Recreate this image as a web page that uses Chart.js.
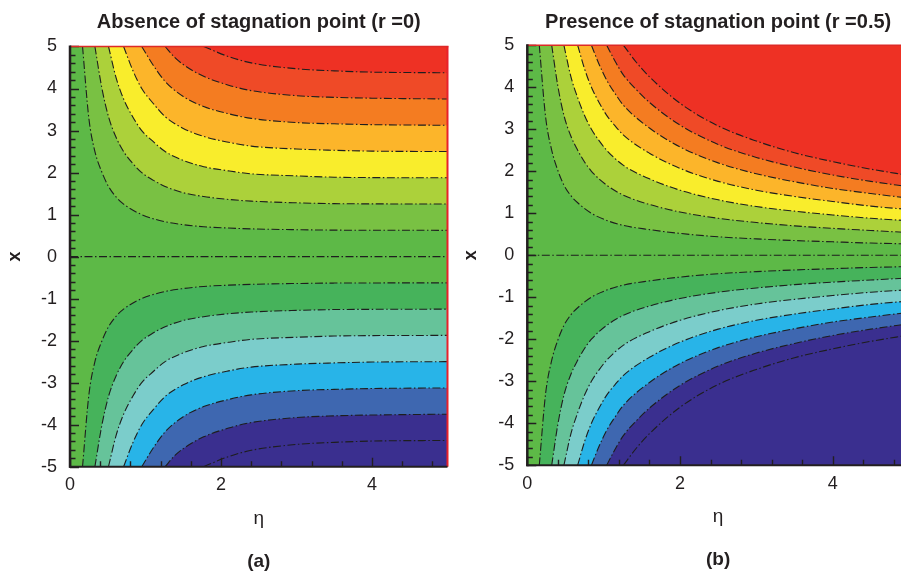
<!DOCTYPE html>
<html>
<head>
<meta charset="utf-8">
<script src="https://cdn.jsdelivr.net/npm/chart.js@4.4.1/dist/chart.umd.min.js"></script>
<style>
    html, body { margin: 0; padding: 0; background: #fff; overflow: hidden; width: 901px; height: 572px; }
    .panel { position: absolute; top: 0; }
    #panelA { left: 0; }
    #panelB { left: 460px; }
</style>
</head>
<body>
<div class="panel" id="panelA"><canvas id="chartA" width="460" height="572"></canvas></div>
<div class="panel" id="panelB"><canvas id="chartB" width="460" height="572"></canvas></div>
<script>
// contour levels (positive side; the lower half of each plot is the mirror image)
const levels = [0.625, 1.25, 1.875, 2.5, 3.125, 3.75, 4.375];

// colour of the band above each positive level / below each negative level
const upColors = ['#79c143', '#acd13a', '#f9ed2c', '#fcb52a', '#f47c21', '#ef4a27', '#ee3124'];
const downColors = ['#46b35b', '#66c39a', '#7bcdcb', '#28b4e8', '#3e67b0', '#3a2f8f', '#3a2f8f'];
const centerColor = '#5db947';

// (a) r = 0 : eta / x points along each contour line
const etaA = [
    [0.166, 0.25, 0.33, 0.42, 0.51, 0.61, 0.71, 0.95, 1.26, 1.5, 1.77, 2.1, 2.4, 3.0, 3.5, 4.0, 5.0],
    [0.33, 0.42, 0.51, 0.61, 0.71, 0.83, 0.95, 1.1, 1.26, 1.5, 1.77, 2.1, 2.4, 3.0, 3.5, 4.0, 5.0],
    [0.51, 0.61, 0.71, 0.83, 0.95, 1.1, 1.26, 1.5, 1.77, 2.1, 2.4, 3.0, 3.5, 4.0, 5.0],
    [0.71, 0.83, 0.95, 1.1, 1.26, 1.5, 1.77, 2.1, 2.4, 3.0, 3.5, 4.0, 5.0],
    [0.95, 1.1, 1.26, 1.5, 1.77, 2.1, 2.4, 3.0, 3.5, 4.0, 5.0],
    [1.26, 1.38, 1.5, 1.77, 2.1, 2.4, 3.0, 3.5, 4.0, 5.0],
    [1.77, 2.1, 2.4, 3.0, 3.5, 4.0, 5.0]
];
const xA = [
    [5.0, 3.29, 2.5, 2.02, 1.67, 1.42, 1.25, 1.0, 0.83, 0.76, 0.71, 0.68, 0.66, 0.64, 0.63, 0.627, 0.625],
    [5.0, 4.03, 3.33, 2.84, 2.5, 2.22, 2.0, 1.82, 1.67, 1.52, 1.43, 1.36, 1.32, 1.28, 1.26, 1.255, 1.25],
    [5.0, 4.26, 3.75, 3.33, 3.0, 2.74, 2.5, 2.29, 2.14, 2.04, 1.97, 1.92, 1.89, 1.88, 1.875],
    [5.0, 4.44, 4.0, 3.65, 3.33, 3.05, 2.86, 2.72, 2.63, 2.56, 2.53, 2.51, 2.5],
    [5.0, 4.56, 4.17, 3.81, 3.57, 3.40, 3.29, 3.19, 3.16, 3.14, 3.125],
    [5.0, 4.75, 4.57, 4.29, 4.08, 3.95, 3.83, 3.79, 3.77, 3.75],
    [5.0, 4.76, 4.61, 4.47, 4.42, 4.39, 4.375]
];

// (b) r = 0.5
const etaB = [
    [0.157, 0.24, 0.32, 0.40, 0.48, 0.57, 0.66, 0.84, 1.04, 1.26, 1.6, 2.0, 2.5, 3.0, 3.5, 4.0, 4.5, 5.0],
    [0.32, 0.40, 0.48, 0.57, 0.66, 0.75, 0.84, 1.04, 1.26, 1.6, 2.0, 2.5, 3.0, 3.5, 4.0, 4.5, 5.0],
    [0.48, 0.57, 0.66, 0.75, 0.84, 0.94, 1.04, 1.26, 1.6, 2.0, 2.5, 3.0, 3.5, 4.0, 4.5, 5.0],
    [0.66, 0.75, 0.84, 0.94, 1.04, 1.15, 1.26, 1.6, 2.0, 2.5, 3.0, 3.5, 4.0, 4.5, 5.0],
    [0.84, 0.94, 1.04, 1.15, 1.26, 1.6, 2.0, 2.5, 3.0, 3.5, 4.0, 4.5, 5.0],
    [1.04, 1.15, 1.26, 1.43, 1.6, 2.0, 2.5, 3.0, 3.5, 4.0, 4.5, 5.0],
    [1.26, 1.43, 1.6, 2.0, 2.5, 3.0, 3.5, 4.0, 4.5, 5.0]
];
const xB = [
    [5.0, 3.29, 2.5, 2.02, 1.67, 1.42, 1.25, 1.0, 0.83, 0.71, 0.61, 0.52, 0.44, 0.39, 0.35, 0.32, 0.29, 0.27],
    [5.0, 4.03, 3.33, 2.84, 2.5, 2.22, 2.0, 1.67, 1.43, 1.21, 1.03, 0.88, 0.78, 0.70, 0.64, 0.59, 0.54],
    [5.0, 4.26, 3.75, 3.33, 3.0, 2.73, 2.5, 2.14, 1.82, 1.55, 1.32, 1.16, 1.05, 0.96, 0.88, 0.82],
    [5.0, 4.44, 4.0, 3.64, 3.33, 3.08, 2.86, 2.43, 2.07, 1.76, 1.55, 1.40, 1.28, 1.17, 1.09],
    [5.0, 4.55, 4.17, 3.85, 3.57, 3.03, 2.58, 2.20, 1.94, 1.75, 1.59, 1.47, 1.36],
    [5.0, 4.62, 4.29, 3.94, 3.64, 3.10, 2.64, 2.33, 2.10, 1.91, 1.76, 1.63],
    [5.0, 4.59, 4.25, 3.62, 3.08, 2.72, 2.44, 2.23, 2.05, 1.90]
];

// axis ticks
const xTickLabels = [0, 2, 4];
const yTickLabels = [-5, -4, -3, -2, -1, 0, 1, 2, 3, 4, 5];
const xMinorStep = 0.4;
const yMinorStep = 0.2;

Chart.defaults.font.family = '"Liberation Sans", Arial, sans-serif';
Chart.defaults.color = '#231f20';

const dashDot = [8, 2.5, 1.5, 2.5];

function contourLine(eta, xs, sign, color, fillTo) {
    return {
        data: eta.map((e, i) => ({ x: e, y: sign * xs[i] })),
        showLine: true,
        fill: fillTo,
        backgroundColor: color,
        borderColor: '#1e1e1e',
        borderWidth: 1.1,
        borderDash: dashDot,
        pointRadius: 0,
        cubicInterpolationMode: 'monotone'
    };
}

function buildDatasets(etaArr, xArr) {
    const sets = [];
    // highest level first so its fill ends up on top
    for (let k = levels.length - 1; k >= 0; k--) {
        sets.push(contourLine(etaArr[k], xArr[k], 1, upColors[k], 'end'));
    }
    for (let k = levels.length - 1; k >= 0; k--) {
        sets.push(contourLine(etaArr[k], xArr[k], -1, downColors[k], 'start'));
    }
    sets.push({
        data: [{ x: 0, y: 0 }, { x: 5, y: 0 }],
        showLine: true,
        fill: false,
        borderColor: '#1e1e1e',
        borderWidth: 1.1,
        borderDash: dashDot,
        pointRadius: 0
    });
    return sets;
}

const framePlugin = {
    id: 'frame',
    beforeDraw(chart) {
        const { ctx, chartArea: a } = chart;
        ctx.save();
        ctx.fillStyle = centerColor;
        ctx.fillRect(a.left, a.top, a.right - a.left, a.bottom - a.top);
        ctx.restore();
    },
    afterDatasetsDraw(chart, args, opts) {
        const { ctx, chartArea: a, scales: { x, y } } = chart;
        ctx.save();
        // inward tick marks
        ctx.strokeStyle = '#231f20';
        ctx.lineWidth = 1.4;
        ctx.beginPath();
        for (let v = -5; v <= 5.001; v += yMinorStep) {
            const major = yTickLabels.some(t => Math.abs(t - v) < 1e-6);
            const p = Math.round(y.getPixelForValue(v)) + 0.5;
            ctx.moveTo(a.left, p);
            ctx.lineTo(a.left + (major ? 9 : 5.5), p);
        }
        for (let v = 0; v <= 5.001; v += xMinorStep) {
            const major = xTickLabels.some(t => Math.abs(t - v) < 1e-6);
            const p = Math.round(x.getPixelForValue(v)) + 0.5;
            ctx.moveTo(p, a.bottom);
            ctx.lineTo(p, a.bottom - (major ? 9 : 5.5));
        }
        ctx.stroke();

        // red top edge (and right edge on panel a)
        ctx.strokeStyle = '#dd2a27';
        ctx.lineWidth = 1.5;
        ctx.beginPath();
        ctx.moveTo(a.left, a.top);
        ctx.lineTo(a.right + 1, a.top);
        ctx.stroke();
        if (opts.redRight) {
            ctx.strokeStyle = '#e8212a';
            ctx.lineWidth = 2;
            ctx.beginPath();
            ctx.moveTo(a.right, a.top);
            ctx.lineTo(a.right, a.bottom);
            ctx.stroke();
        }

        // dark left and bottom axis lines
        ctx.strokeStyle = '#231f20';
        ctx.lineWidth = 2.5;
        ctx.beginPath();
        ctx.moveTo(a.left, a.top - 1);
        ctx.lineTo(a.left, a.bottom + 1);
        ctx.stroke();
        ctx.lineWidth = 2;
        ctx.beginPath();
        ctx.moveTo(a.left - 1, a.bottom);
        ctx.lineTo(a.right, a.bottom);
        ctx.stroke();
        ctx.restore();
    }
};

function makeChart(canvasId, cfg) {
    return new Chart(document.getElementById(canvasId), {
        type: 'scatter',
        data: { datasets: buildDatasets(cfg.eta, cfg.x) },
        plugins: [framePlugin],
        options: {
            responsive: false,
            animation: false,
            events: [],
            layout: { padding: { top: 1, left: 0, right: cfg.padRight, bottom: 0 } },
            scales: {
                x: {
                    type: 'linear',
                    min: 0,
                    max: 5,
                    grid: { display: false, drawTicks: false },
                    border: { display: false },
                    afterBuildTicks: s => { s.ticks = xTickLabels.map(v => ({ value: v })); },
                    afterFit: s => { s.height = 63.2; },
                    ticks: { padding: 8, font: { size: 18 } },
                    title: { display: true, text: 'η', font: { size: 19 }, padding: { top: 0, bottom: 0 } }
                },
                y: {
                    type: 'linear',
                    min: -5,
                    max: 5,
                    grid: { display: false, drawTicks: false },
                    border: { display: false },
                    afterBuildTicks: s => { s.ticks = yTickLabels.map(v => ({ value: v })); },
                    afterFit: s => { s.width = cfg.yWidth; },
                    ticks: { padding: 13, font: { size: 18 } },
                    title: { display: true, text: 'x', font: { size: 18, weight: 'bold' }, padding: { top: cfg.yTitlePad, bottom: 0 } }
                }
            },
            plugins: {
                legend: { display: false },
                tooltip: { enabled: false },
                filler: { drawTime: 'beforeDatasetsDraw' },
                frame: { redRight: cfg.redRight },
                title: {
                    display: true,
                    text: cfg.title,
                    fullSize: false,
                    font: { size: 20, weight: 'bold', lineHeight: 1.1 },
                    color: '#231f20',
                    padding: { top: 10, bottom: cfg.titlePadBottom }
                },
                subtitle: {
                    display: true,
                    position: 'bottom',
                    text: cfg.label,
                    fullSize: false,
                    font: { size: 19, weight: 'bold', lineHeight: 1.1 },
                    color: '#231f20',
                    padding: { top: 21, bottom: cfg.subPadBottom }
                }
            }
        }
    });
}

makeChart('chartA', {
    eta: etaA, x: xA,
    title: 'Absence of stagnation point (r =0)',
    label: '(a)',
    padRight: 12.5, yWidth: 70, yTitlePad: 4.2,
    titlePadBottom: 13.5, subPadBottom: 0.2, redRight: true
});

makeChart('chartB', {
    eta: etaB, x: xB,
    title: 'Presence of stagnation point (r =0.5)',
    label: '(b)',
    padRight: 11, yWidth: 67.3, yTitlePad: 0.2,
    titlePadBottom: 12.3, subPadBottom: 1.7, redRight: false
});
</script>
</body>
</html>
